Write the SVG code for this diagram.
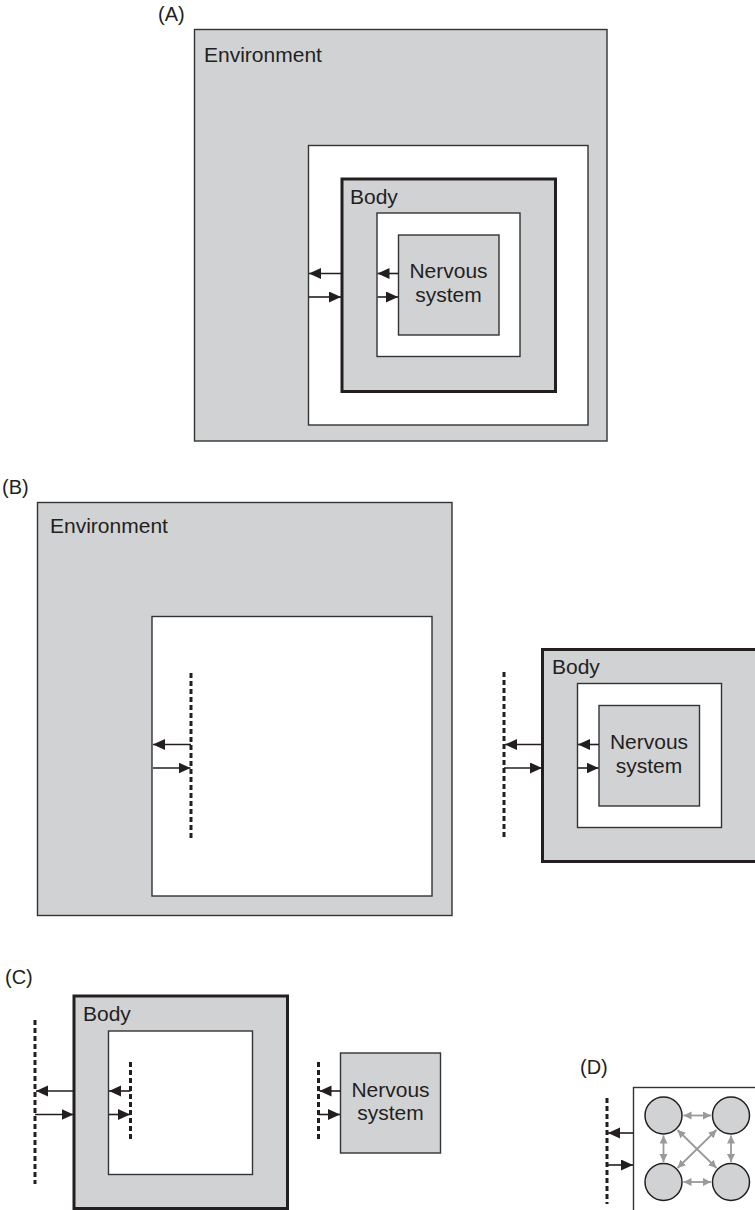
<svg xmlns="http://www.w3.org/2000/svg" width="755" height="1210" viewBox="0 0 755 1210">
  <style>
    text { font-family: "Liberation Sans", Arial, sans-serif; fill: #231f20; }
    .lbl { font-size: 20px; }
    .t { font-size: 21px; }
    .mid { text-anchor: middle; }
    .env { fill: #d1d2d4; stroke: #333; stroke-width: 1.4; }
    .white { fill: #ffffff; stroke: #333; stroke-width: 1.4; }
    .body { fill: #d1d2d4; stroke: #231f20; stroke-width: 3; }
    .ns { fill: #d1d2d4; stroke: #333; stroke-width: 1.4; }
    .arr { stroke: #231f20; stroke-width: 1.6; fill: none; marker-end: url(#head); }
    .dash { stroke: #231f20; stroke-width: 3; stroke-dasharray: 5 3; fill: none; }
    .link { stroke: #9a9a9a; stroke-width: 1.8; fill: none; marker-start: url(#ghead); marker-end: url(#ghead); }
    .cell { fill: #d1d2d4; stroke: #231f20; stroke-width: 1.5; }
  </style>
  <defs>
    <marker id="head" markerUnits="userSpaceOnUse" markerWidth="13" markerHeight="12" refX="12" refY="5.5" orient="auto">
      <path d="M0,0 L12,5.5 L0,11 z" fill="#231f20"/>
    </marker>
    <marker id="ghead" markerUnits="userSpaceOnUse" markerWidth="10" markerHeight="10" refX="8" refY="4" orient="auto-start-reverse">
      <path d="M0,0 L8,4 L0,8 z" fill="#9a9a9a"/>
    </marker>
  </defs>

  <!-- (A) nested environment / body / nervous system -->
  <g id="panel-a">
    <text class="lbl" x="158" y="21">(A)</text>
    <g id="a-environment">
      <rect class="env" x="194.5" y="29.5" width="412.5" height="411.5"/>
      <text class="t" x="204" y="62">Environment</text>
    </g>
    <rect class="white" x="308.5" y="145.5" width="279.5" height="279.5"/>
    <g id="a-body">
      <rect class="body" x="342" y="179" width="213.5" height="212.5"/>
      <text class="t" x="350" y="204">Body</text>
    </g>
    <rect class="white" x="377" y="213" width="143" height="143.5"/>
    <g id="a-nervous-system">
      <rect class="ns" x="398.5" y="235" width="100.5" height="100"/>
      <text class="t mid" x="448.5" y="278">Nervous</text>
      <text class="t mid" x="448.5" y="302">system</text>
    </g>
  </g>

  <!-- (B) environment and body separated -->
  <g id="panel-b">
    <text class="lbl" x="2" y="494">(B)</text>
    <g id="b-environment">
      <rect class="env" x="37.5" y="502.5" width="414.5" height="413"/>
      <text class="t" x="50" y="533">Environment</text>
    </g>
    <rect class="white" x="152" y="616.5" width="280" height="279.5"/>
    <g id="b-body">
      <rect class="body" x="542.5" y="649.5" width="220" height="212"/>
      <text class="t" x="552" y="674">Body</text>
    </g>
    <rect class="white" x="577.5" y="683.5" width="144" height="144"/>
    <g id="b-nervous-system">
      <rect class="ns" x="599" y="705.5" width="100.5" height="100.5"/>
      <text class="t mid" x="649" y="749">Nervous</text>
      <text class="t mid" x="649" y="773">system</text>
    </g>
  </g>

  <!-- (C) body and nervous system separated -->
  <g id="panel-c">
    <text class="lbl" x="5" y="984">(C)</text>
    <g id="c-body">
      <rect class="body" x="74" y="996" width="213.5" height="212.5"/>
      <text class="t" x="83" y="1021">Body</text>
    </g>
    <rect class="white" x="108.5" y="1031" width="144" height="143.5"/>
    <g id="c-nervous-system">
      <rect class="ns" x="340.5" y="1053" width="100" height="100"/>
      <text class="t mid" x="390.5" y="1097">Nervous</text>
      <text class="t mid" x="390.5" y="1120">system</text>
    </g>
  </g>

  <!-- (D) network of interacting cells -->
  <g id="panel-d">
    <text class="lbl" x="580" y="1074">(D)</text>
    <rect class="white" x="633.5" y="1087.5" width="140" height="140"/>
    <g id="d-cells">
      <circle class="cell" cx="663.5" cy="1115.5" r="18.5"/>
      <circle class="cell" cx="731" cy="1115.5" r="18.5"/>
      <circle class="cell" cx="663.5" cy="1182" r="18.5"/>
      <circle class="cell" cx="731" cy="1182" r="18.5"/>
    </g>
  </g>

  <!-- connectors: interface lines and signal arrows -->
  <g id="connectors">
    <!-- A -->
    <line class="arr" x1="342" y1="273.5" x2="309" y2="273.5"/>
    <line class="arr" x1="309" y1="297" x2="341" y2="297"/>
    <line class="arr" x1="398.5" y1="273.5" x2="377.5" y2="273.5"/>
    <line class="arr" x1="377.5" y1="297" x2="398" y2="297"/>

    <!-- B -->
    <line class="dash" x1="191" y1="673" x2="191" y2="838"/>
    <line class="arr" x1="191" y1="744.5" x2="153" y2="744.5"/>
    <line class="arr" x1="153" y1="768" x2="190.5" y2="768"/>
    <line class="dash" x1="504" y1="672" x2="504" y2="837"/>
    <line class="arr" x1="542.5" y1="744.5" x2="505" y2="744.5"/>
    <line class="arr" x1="504" y1="768" x2="542" y2="768"/>
    <line class="arr" x1="599" y1="744.5" x2="578" y2="744.5"/>
    <line class="arr" x1="578" y1="768" x2="598.5" y2="768"/>

    <!-- C -->
    <line class="dash" x1="35" y1="1020" x2="35" y2="1184"/>
    <line class="arr" x1="74" y1="1091" x2="36" y2="1091"/>
    <line class="arr" x1="35" y1="1114.5" x2="73.5" y2="1114.5"/>
    <line class="dash" x1="130.5" y1="1062" x2="130.5" y2="1140"/>
    <line class="arr" x1="130.5" y1="1091" x2="109" y2="1091"/>
    <line class="arr" x1="109" y1="1114.5" x2="130" y2="1114.5"/>
    <line class="dash" x1="318.5" y1="1062" x2="318.5" y2="1140"/>
    <line class="arr" x1="340.5" y1="1091" x2="319.5" y2="1091"/>
    <line class="arr" x1="318.5" y1="1114.5" x2="340" y2="1114.5"/>

    <!-- D -->
    <line class="dash" x1="607" y1="1098" x2="607" y2="1204"/>
    <line class="arr" x1="633.5" y1="1133" x2="608" y2="1133"/>
    <line class="arr" x1="607" y1="1165" x2="633" y2="1165"/>
    <line class="link" x1="683.5" y1="1115.5" x2="711" y2="1115.5"/>
    <line class="link" x1="683.5" y1="1182" x2="711" y2="1182"/>
    <line class="link" x1="663.5" y1="1135.5" x2="663.5" y2="1162"/>
    <line class="link" x1="731" y1="1135.5" x2="731" y2="1162"/>
    <line class="link" x1="677.5" y1="1130" x2="716.5" y2="1168"/>
    <line class="link" x1="716.5" y1="1130" x2="677.5" y2="1168"/>
  </g>
</svg>
